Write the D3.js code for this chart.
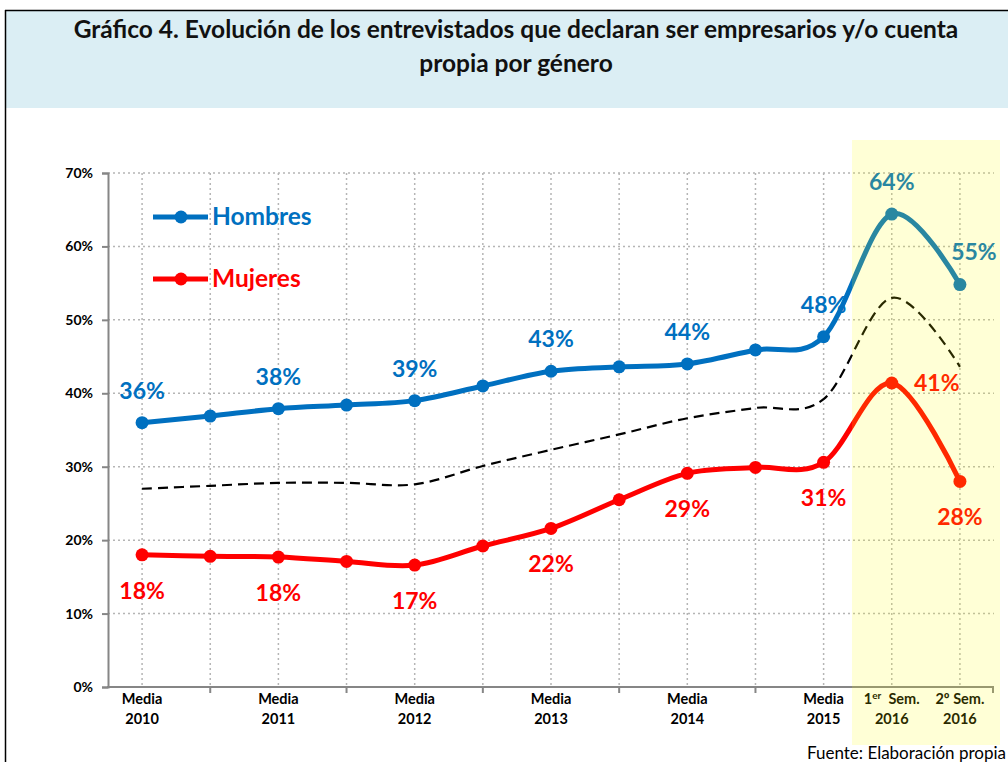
<!DOCTYPE html>
<html>
<head>
<meta charset="utf-8">
<script src="https://cdnjs.cloudflare.com/ajax/libs/d3/7.8.5/d3.min.js"></script>
<style>
  body { margin: 0; background: #fff; }
  svg { display: block; font-family: Lato, "Open Sans", sans-serif; }
</style>
</head>
<body>
<div id="chart"></div>
<script>
// category labels (two lines), empty slots are unlabeled periods
const catLine1 = ["Media", "", "Media", "", "Media", "", "Media", "", "Media", "", "Media", "1er Sem.", "2º Sem."]
const catLine2 = ["2010", "", "2011", "", "2012", "", "2013", "", "2014", "", "2015", "2016", "2016"]

// series values (%)
const hombres = [36.0, 36.9, 37.9, 38.4, 39.0, 41.0, 43.0, 43.6, 44.0, 45.9, 47.7, 64.4, 54.8]
const mujeres = [18.0, 17.8, 17.7, 17.1, 16.6, 19.2, 21.6, 25.5, 29.1, 29.9, 30.6, 41.4, 28.0]
const total = [27.0, 27.4, 27.8, 27.8, 27.6, 30.1, 32.3, 34.4, 36.6, 38.0, 39.2, 53.0, 43.6]

const yTicks = [0, 10, 20, 30, 40, 50, 60, 70]

// which points get a data label
const labelIdx = [0, 2, 4, 6, 8, 10, 11, 12]
const hombresLabelPos = ["above", "above", "above", "above", "above", "above", "above", "aboveRight"]
const mujeresLabelPos = ["below", "below", "below", "below", "below", "below", "right", "below"]

const W = 1008, H = 762
const svg = d3.select("#chart").append("svg").attr("width", W).attr("height", H)

// title box
svg.append("rect").attr("x", 5).attr("y", 10).attr("width", W).attr("height", 98).attr("fill", "#dbeef4")
svg.append("line").attr("x1", 5).attr("x2", W).attr("y1", 10.5).attr("y2", 10.5).attr("stroke", "#000").attr("stroke-width", 1.5)
svg.append("line").attr("x1", 5.5).attr("x2", 5.5).attr("y1", 10).attr("y2", H).attr("stroke", "#000").attr("stroke-width", 1.5)

const title = svg.append("text").attr("text-anchor", "middle")
    .style("font-size", "24.5px").style("font-weight", "bold").attr("fill", "#111")
title.append("tspan").attr("x", 516).attr("y", 38).text("Gráfico 4. Evolución de los entrevistados que declaran ser empresarios y/o cuenta")
title.append("tspan").attr("x", 516).attr("y", 72).text("propia por género")

// scales
const x = d3.scalePoint().domain(d3.range(catLine1.length)).range([108, 994]).padding(0.5)
const y = d3.scaleLinear().domain([0, 70]).range([687, 173])

// grid
const grid = svg.append("g")
grid.selectAll("line.h").data(yTicks.filter(d => d > 0)).join("line")
    .attr("x1", 108).attr("x2", 994)
    .attr("y1", d => y(d)).attr("y2", d => y(d))
    .attr("stroke", "#b5b5b5").attr("stroke-width", 1.5).attr("stroke-dasharray", "2,3")
grid.selectAll("line.v").data(d3.range(catLine1.length)).join("line")
    .attr("x1", d => x(d)).attr("x2", d => x(d))
    .attr("y1", y(70)).attr("y2", y(0))
    .attr("stroke", "#b5b5b5").attr("stroke-width", 1.5).attr("stroke-dasharray", "2,3")

// y axis
const yAxis = svg.append("g").attr("transform", "translate(108,0)")
    .call(d3.axisLeft(y).tickValues(yTicks).tickSize(6).tickFormat(d => d + "%"))
yAxis.select(".domain").attr("stroke", "#868686").attr("stroke-width", 2)
yAxis.selectAll(".tick line").attr("stroke", "#868686").attr("stroke-width", 2)
yAxis.selectAll(".tick text").attr("x", -15).attr("fill", "#000")
    .style("font-size", "14px").style("font-weight", "bold").style("font-family", "Lato, sans-serif")

// x axis
svg.append("line").attr("x1", 107).attr("x2", 994).attr("y1", y(0)).attr("y2", y(0))
    .attr("stroke", "#868686").attr("stroke-width", 2)
svg.append("g").selectAll("line").data(d3.range(catLine1.length).filter(i => catLine1[i] === "")).join("line")
    .attr("x1", d => x(d)).attr("x2", d => x(d))
    .attr("y1", y(0)).attr("y2", y(0) + 6)
    .attr("stroke", "#868686").attr("stroke-width", 2)
svg.append("line").attr("x1", 993).attr("x2", 993).attr("y1", y(0)).attr("y2", y(0) + 6)
    .attr("stroke", "#868686").attr("stroke-width", 2)

const xl = svg.append("g").selectAll("text").data(d3.range(catLine1.length).filter(i => catLine1[i] !== "")).join("text")
    .attr("text-anchor", "middle").style("font-size", "14.5px").style("font-weight", "bold").attr("fill", "#000")
xl.each(function (i) {
    const t = d3.select(this)
    const l1 = t.append("tspan").attr("x", x(i)).attr("y", 704)
    if (catLine1[i].startsWith("1er")) {
        l1.text("1")
        l1.append("tspan").attr("dy", -5).style("font-size", "10px").text("er")
        l1.append("tspan").attr("dy", 5).text("\u00a0 Sem.")
    } else {
        l1.text(catLine1[i])
    }
    t.append("tspan").attr("x", x(i)).attr("y", 724).text(catLine2[i])
})

// lines
const line = d3.line().x((d, i) => x(i)).y(d => y(d)).curve(d3.curveCardinal.tension(0))

svg.append("path").datum(total).attr("d", line)
    .attr("fill", "none").attr("stroke", "#000").attr("stroke-width", 2.2).attr("stroke-dasharray", "10,6")

const series = [
    { values: hombres, color: "#0070c0", pos: hombresLabelPos },
    { values: mujeres, color: "#ff0000", pos: mujeresLabelPos }
]

series.forEach(s => {
    svg.append("path").datum(s.values).attr("d", line)
        .attr("fill", "none").attr("stroke", s.color).attr("stroke-width", 5)
    svg.append("g").selectAll("circle").data(s.values).join("circle")
        .attr("cx", (d, i) => x(i)).attr("cy", d => y(d)).attr("r", 6.5).attr("fill", s.color)

    svg.append("g").selectAll("text").data(labelIdx).join("text")
        .attr("text-anchor", "middle").attr("fill", s.color)
        .style("font-size", "23px").style("font-weight", "bold")
        .attr("x", (i, k) => x(i) + (s.pos[k] === "right" ? 45 : s.pos[k] === "aboveRight" ? 14 : 0))
        .attr("y", (i, k) => {
            const p = s.pos[k]
            const py = y(s.values[i])
            if (p === "above") return py - 24
            if (p === "aboveRight") return py - 25
            if (p === "right") return py + 8
            return py + 44
        })
        .text(i => Math.round(s.values[i]) + "%")
})

// highlight over last two periods
svg.append("rect").attr("x", 852).attr("y", 140).attr("width", 148).attr("height", 605)
    .attr("fill", "#ffff00").attr("opacity", 0.16)

// legend
const legend = [{ name: "Hombres", color: "#0070c0", y: 217 }, { name: "Mujeres", color: "#ff0000", y: 279 }]
legend.forEach(l => {
    svg.append("line").attr("x1", 153).attr("x2", 208).attr("y1", l.y).attr("y2", l.y)
        .attr("stroke", l.color).attr("stroke-width", 5)
    svg.append("circle").attr("cx", 181).attr("cy", l.y).attr("r", 6.5).attr("fill", l.color)
    svg.append("text").attr("x", 212).attr("y", l.y + 8).attr("fill", l.color)
        .style("font-size", "24.5px").style("font-weight", "bold").text(l.name)
})

// source
svg.append("text").attr("x", 1006).attr("y", 759).attr("text-anchor", "end")
    .style("font-size", "17px").attr("fill", "#000").text("Fuente: Elaboración propia")
</script>
</body>
</html>
